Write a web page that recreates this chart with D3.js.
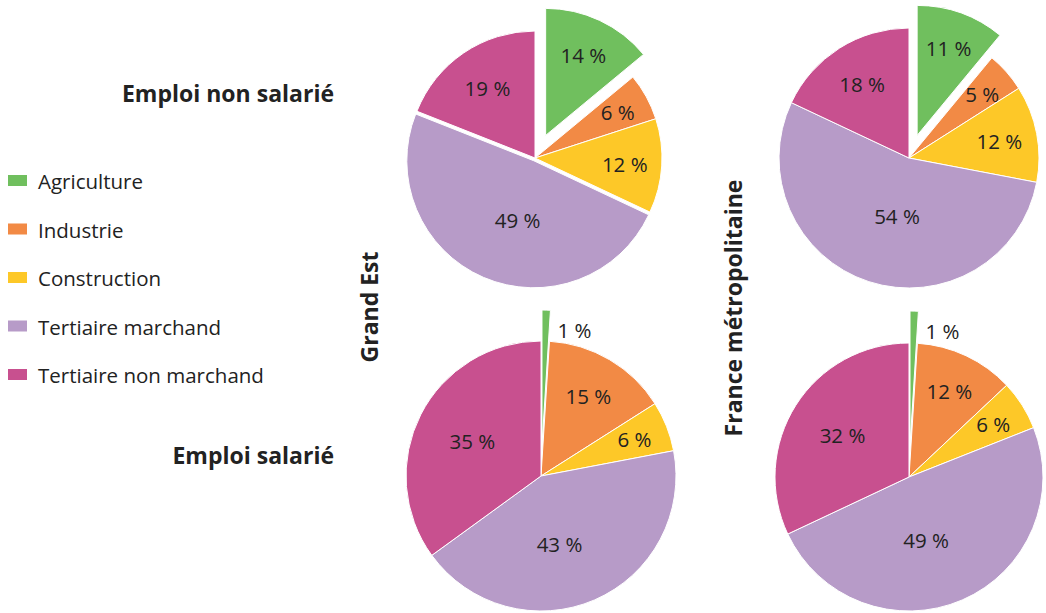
<!DOCTYPE html>
<html>
<head>
<meta charset="utf-8">
<script src="https://cdn.jsdelivr.net/npm/d3@7"></script>
<style>
  body { margin: 0; background: #fff; }
  text { font-family: "Open Sans", "Noto Sans", sans-serif; fill: #222; }
</style>
</head>
<body>
<script>
// categories + colours
var categories = ["Agriculture", "Industrie", "Construction", "Tertiaire marchand", "Tertiaire non marchand"];
var colors = ["#70bf5e", "#f28a45", "#fdc828", "#b79bc8", "#c8508f"];

// shares in %
var grandEstNonSalarie = [14, 6, 12, 49, 19];
var franceNonSalarie = [11, 5, 12, 54, 18];
var grandEstSalarie = [1, 15, 6, 43, 35];
var franceSalarie = [1, 12, 6, 49, 32];

var w = 1046, h = 613;

var svg = d3.select("body").append("svg")
    .attr("width", w)
    .attr("height", h);

var color = d3.scaleOrdinal().domain(categories).range(colors);

var pie = d3.pie().sort(null).value(function(d) { return d.value; });

// one entry per pie: data + where it sits
var panels = [
  { values: grandEstNonSalarie, cx: 535, cy: 158, r: 127, explode: [25, 0, 0, 3, 0] },
  { values: franceNonSalarie,   cx: 909, cy: 158, r: 130, explode: [24, 0, 0, 0, 0] },
  { values: grandEstSalarie,    cx: 541, cy: 476, r: 135, explode: [31, 0, 0, 0, 0] },
  { values: franceSalarie,      cx: 909, cy: 477, r: 134, explode: [32, 0, 0, 0, 0] }
];

panels.forEach(function(p) {
  var data = p.values.map(function(v, i) { return { key: categories[i], value: v }; });
  var total = d3.sum(p.values);
  var arcs = pie(data);
  var arc = d3.arc().innerRadius(0).outerRadius(p.r);

  var g = svg.append("g")
      .attr("transform", "translate(" + p.cx + "," + p.cy + ")");

  var slice = g.selectAll("g.slice")
      .data(arcs)
      .enter()
      .append("g")
      .attr("class", "slice")
      .attr("transform", function(d, i) {
        var mid = (d.startAngle + d.endAngle) / 2, off = p.explode[i];
        return "translate(" + (Math.sin(mid) * off) + "," + (-Math.cos(mid) * off) + ")";
      });

  slice.append("path")
      .attr("d", arc)
      .attr("fill", function(d) { return color(d.data.key); })
      .attr("stroke", "#fff")
      .attr("stroke-width", 1);

  // label angle pulled a bit toward the bottom for the big slices
  function labelPos(d) {
    var share = d.data.value / total;
    var mid = (d.startAngle + d.endAngle) / 2;
    if (share > 0.4) mid = mid + (Math.PI - mid) * 0.35;
    var rr = p.r * (0.78 - 0.6 * share);
    return [Math.sin(mid) * rr, -Math.cos(mid) * rr];
  }

  slice.append("text")
      .attr("font-size", 20.5)
      .attr("dominant-baseline", "central")
      .attr("text-anchor", function(d) {
        return d.data.value / total < 0.03 ? "start" : "middle";
      })
      .attr("x", function(d) {
        if (d.data.value / total < 0.03) return Math.sin(d.endAngle) * p.r + 7;
        return labelPos(d)[0];
      })
      .attr("y", function(d) {
        if (d.data.value / total < 0.03) return -p.r + 20;
        return labelPos(d)[1];
      })
      .text(function(d) { return d.data.value + "\u00a0%"; });
});

// legend
var legend = svg.append("g").attr("class", "legend");
var ly = d3.scalePoint().domain(categories).range([181, 375]);

legend.selectAll("rect")
    .data(categories)
    .enter()
    .append("rect")
    .attr("x", 8)
    .attr("y", function(d) { return ly(d) - 6; })
    .attr("width", 19)
    .attr("height", 11)
    .attr("fill", function(d) { return color(d); });

legend.selectAll("text")
    .data(categories)
    .enter()
    .append("text")
    .attr("x", 38)
    .attr("y", function(d) { return ly(d); })
    .attr("dominant-baseline", "central")
    .attr("font-size", 20.5)
    .text(function(d) { return d; });

// row titles
svg.append("text")
    .attr("x", 334).attr("y", 93)
    .attr("text-anchor", "end")
    .attr("dominant-baseline", "central")
    .attr("font-size", 23).attr("font-weight", "bold")
    .text("Emploi non salarié");

svg.append("text")
    .attr("x", 334).attr("y", 455)
    .attr("text-anchor", "end")
    .attr("dominant-baseline", "central")
    .attr("font-size", 23).attr("font-weight", "bold")
    .text("Emploi salarié");

// column titles (rotated)
svg.append("text")
    .attr("transform", "translate(369,307) rotate(-90)")
    .attr("text-anchor", "middle")
    .attr("dominant-baseline", "central")
    .attr("font-size", 23).attr("font-weight", "bold")
    .text("Grand Est");

svg.append("text")
    .attr("transform", "translate(733,308) rotate(-90)")
    .attr("text-anchor", "middle")
    .attr("dominant-baseline", "central")
    .attr("font-size", 23).attr("font-weight", "bold")
    .text("France métropolitaine");
</script>
</body>
</html>
